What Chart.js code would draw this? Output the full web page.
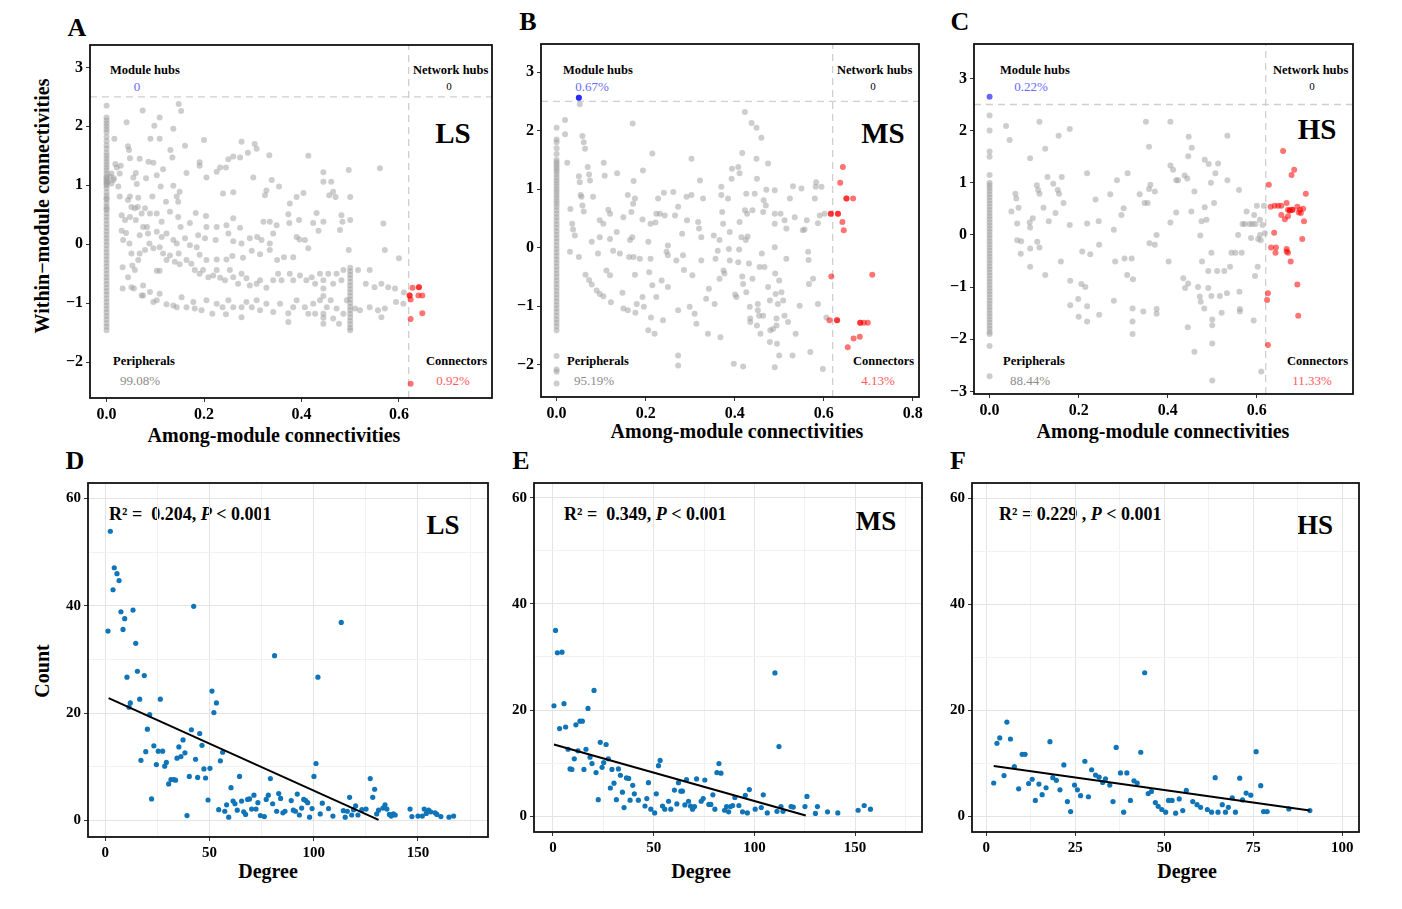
<!DOCTYPE html>
<html><head><meta charset="utf-8">
<script src="https://cdn.jsdelivr.net/npm/chart.js@4.4.1/dist/chart.umd.min.js"></script>
<style>
html,body{margin:0;padding:0;background:#fff;}
#wrap{position:relative;width:1402px;height:909px;overflow:hidden;font-family:"Liberation Serif","Times New Roman",serif;color:#000;}
canvas{position:absolute;}
.t{position:absolute;white-space:pre;line-height:1;}
.c{transform:translate(-50%,-50%);}
.l{transform:translate(0,-50%);}
.rot{transform:translate(-50%,-50%) rotate(-90deg);}
.pl{font-weight:bold;font-size:26px;}
.ax{font-weight:bold;font-size:20px;}
.hd{font-weight:bold;font-size:12.5px;}
.pc{font-size:13px;}
.big{font-weight:bold;font-size:29px;}
.big2{font-weight:bold;font-size:27px;}
.r2{font-weight:bold;font-size:18px;}
</style></head>
<body>
<div id="wrap">
  <div class="t c pl" style="left:77px;top:28px">A</div>
  <div class="t c pl" style="left:528px;top:22px">B</div>
  <div class="t c pl" style="left:960px;top:22px">C</div>
  <div class="t c pl" style="left:75px;top:461px">D</div>
  <div class="t c pl" style="left:521px;top:461px">E</div>
  <div class="t c pl" style="left:958px;top:461px">F</div>

  <div class="t rot ax" style="left:42px;top:206px">Within−module connectivities</div>
  <div class="t c ax" style="left:274px;top:435px">Among-module connectivities</div>
  <div class="t c ax" style="left:737px;top:431px">Among-module connectivities</div>
  <div class="t c ax" style="left:1163px;top:431px">Among-module connectivities</div>
  <div class="t rot ax" style="left:42px;top:671px">Count</div>
  <div class="t c ax" style="left:268px;top:871px">Degree</div>
  <div class="t c ax" style="left:701px;top:871px">Degree</div>
  <div class="t c ax" style="left:1187px;top:871px">Degree</div>

  <!-- A annotations -->
  <div class="t l hd" style="left:110px;top:70px">Module hubs</div>
  <div class="t c pc" style="left:137px;top:86px;color:#6a6aff">0</div>
  <div class="t l hd" style="left:413px;top:70px">Network hubs</div>
  <div class="t c pc" style="left:449px;top:86px;font-size:11px">0</div>
  <div class="t c big" style="left:453px;top:133px">LS</div>
  <div class="t l hd" style="left:113px;top:361px">Peripherals</div>
  <div class="t c pc" style="left:140px;top:380px;color:#8c8c8c">99.08%</div>
  <div class="t l hd" style="left:426px;top:361px">Connectors</div>
  <div class="t c pc" style="left:453px;top:380px;color:#ff5a5a">0.92%</div>

  <!-- B annotations -->
  <div class="t l hd" style="left:563px;top:70px">Module hubs</div>
  <div class="t c pc" style="left:592px;top:86px;color:#6a6aff">0.67%</div>
  <div class="t l hd" style="left:837px;top:70px">Network hubs</div>
  <div class="t c pc" style="left:873px;top:86px;font-size:11px">0</div>
  <div class="t c big" style="left:883px;top:133px">MS</div>
  <div class="t l hd" style="left:567px;top:361px">Peripherals</div>
  <div class="t c pc" style="left:594px;top:380px;color:#8c8c8c">95.19%</div>
  <div class="t l hd" style="left:853px;top:361px">Connectors</div>
  <div class="t c pc" style="left:878px;top:380px;color:#ff5a5a">4.13%</div>

  <!-- C annotations -->
  <div class="t l hd" style="left:1000px;top:70px">Module hubs</div>
  <div class="t c pc" style="left:1031px;top:86px;color:#6a6aff">0.22%</div>
  <div class="t l hd" style="left:1273px;top:70px">Network hubs</div>
  <div class="t c pc" style="left:1312px;top:86px;font-size:11px">0</div>
  <div class="t c big" style="left:1317px;top:129px">HS</div>
  <div class="t l hd" style="left:1003px;top:361px">Peripherals</div>
  <div class="t c pc" style="left:1030px;top:380px;color:#8c8c8c">88.44%</div>
  <div class="t l hd" style="left:1287px;top:361px">Connectors</div>
  <div class="t c pc" style="left:1312px;top:380px;color:#ff5a5a">11.33%</div>

  <!-- bottom annotations -->
  <div class="t l r2" style="left:109px;top:514px">R² =  0.204, <i>P</i> &lt; 0.001</div>
  <div class="t c big2" style="left:443px;top:525px">LS</div>
  <div class="t l r2" style="left:564px;top:514px">R² =  0.349, <i>P</i> &lt; 0.001</div>
  <div class="t c big2" style="left:876px;top:521px">MS</div>
  <div class="t l r2" style="left:999px;top:514px">R² = 0.229 , <i>P</i> &lt; 0.001</div>
  <div class="t c big2" style="left:1315px;top:525px">HS</div>
</div>
<script>
// ---------------- DATA ----------------
// thresholds
const zCut = 2.5, pCut = 0.62;

// Panel A (LS) : among-module (x) vs within-module (y)
const lsZeroY = [2.35,2.15,2.1,2.05,2.0,1.95,1.9,1.82,1.75,1.68,1.62,1.55,1.5,1.45,1.4,1.35,1.3,1.25,1.2,1.15,1.12,1.1,1.07,1.05,1.02,1.0,0.95,0.88,0.82,0.78,0.76,0.7,0.64,0.6,0.58,0.52,0.46,0.4,0.34,0.28,0.22,0.16,0.1,0.04,-0.02,-0.08,-0.14,-0.2,-0.26,-0.32,-0.38,-0.44,-0.5,-0.56,-0.62,-0.68,-0.74,-0.8,-0.86,-0.92,-0.98,-1.04,-1.1,-1.16,-1.22,-1.28,-1.34,-1.4,-1.46];
const lsColY = [-0.4,-0.46,-0.52,-0.58,-0.64,-0.7,-0.76,-0.82,-0.88,-0.94,-1.0,-1.06,-1.12,-1.18,-1.24,-1.3,-1.36,-1.42,-1.46];
const lsGrey = [[0.016,1.79],[0.041,2.07],[0.044,1.66],[0.046,1.60],[0.074,2.27],[0.098,2.01],[0.109,2.15],[0.109,1.79],[0.09,1.79],[0.137,1.96],[0.148,2.38],[0.153,2.26],[0.131,1.60],[0.161,1.67],[0.135,1.47],[0.2,1.77],[0.277,1.74],[0.304,1.70],[0.308,1.62],[0.29,1.55],[0.334,1.51],[0.414,1.50],[0.561,1.29],[0.497,1.26],[0.445,1.22],[0.445,1.06],[0.461,1.06],[0.25,1.44],[0.26,1.49],[0.274,1.47],[0.245,1.30],[0.191,1.39],[0.191,1.33],[0.233,1.30],[0.205,1.13],[0.164,1.21],[0.116,1.27],[0.068,1.45],[0.086,1.40],[0.096,1.38],[0.048,1.46],[0.029,1.33],[0.021,1.30],[0.018,1.36],[0.01,1.20],[0.014,1.09],[0.027,1.20],[0.024,0.98],[0.003,1.06],[0.007,1.15],[0.01,1.03],[0.015,1.12],[0.055,1.13],[0.06,1.21],[0.062,1.02],[0.081,1.12],[0.103,1.17],[0.137,0.99],[0.15,0.89],[0.144,0.81],[0.147,0.72],[0.122,0.72],[0.111,0.98],[0.094,0.81],[0.048,0.81],[0.044,0.75],[0.027,0.81],[0.065,0.79],[0.064,0.63],[0.058,0.61],[0.072,0.52],[0.079,0.61],[0.089,0.52],[0.103,0.52],[0.113,0.38],[0.13,0.55],[0.147,0.46],[0.152,0.29],[0.171,0.36],[0.183,0.53],[0.204,0.48],[0.205,0.29],[0.226,0.29],[0.246,0.32],[0.26,0.44],[0.274,0.28],[0.25,0.18],[0.188,0.15],[0.202,0.10],[0.224,0.07],[0.239,0.86],[0.26,0.88],[0.226,1.23],[0.301,1.13],[0.328,0.91],[0.325,0.83],[0.339,1.09],[0.354,0.98],[0.376,0.69],[0.373,0.51],[0.375,0.36],[0.39,0.80],[0.404,0.87],[0.395,0.41],[0.424,0.36],[0.431,0.53],[0.445,0.38],[0.435,0.23],[0.457,0.83],[0.47,0.80],[0.465,0.89],[0.482,0.49],[0.484,0.38],[0.479,0.24],[0.5,0.41],[0.5,0.80],[0.497,-0.10],[0.568,0.35],[0.571,-0.10],[0.6,-0.24],[0.322,0.38],[0.335,0.38],[0.349,0.32],[0.342,0.18],[0.335,0.01],[0.318,0.07],[0.309,0.12],[0.294,0.10],[0.277,0.01],[0.26,0.05],[0.39,0.12],[0.396,0.08],[0.407,0.07],[0.414,-0.07],[0.383,-0.22],[0.364,-0.22],[0.35,-0.27],[0.335,-0.10],[0.315,-0.17],[0.298,-0.11],[0.28,-0.23],[0.258,-0.20],[0.246,-0.26],[0.226,-0.26],[0.205,-0.27],[0.191,-0.18],[0.185,-0.05],[0.171,-0.02],[0.161,0.10],[0.144,0.01],[0.137,0.07],[0.123,0.18],[0.113,0.12],[0.103,0.21],[0.083,0.29],[0.085,0.18],[0.075,0.29],[0.068,0.15],[0.06,0.41],[0.051,0.63],[0.048,0.46],[0.038,0.41],[0.031,0.49],[0.034,0.07],[0.031,0.23],[0.04,0.19],[0.047,0.01],[0.051,-0.16],[0.033,-0.39],[0.053,-0.36],[0.058,-0.44],[0.065,-0.27],[0.068,-0.16],[0.079,-0.10],[0.088,0.01],[0.096,-0.07],[0.109,-0.05],[0.116,-0.16],[0.123,-0.27],[0.109,-0.45],[0.103,-0.45],[0.13,-0.19],[0.14,-0.30],[0.148,-0.16],[0.15,-0.34],[0.164,-0.27],[0.174,-0.33],[0.181,-0.44],[0.191,-0.50],[0.198,-0.44],[0.209,-0.56],[0.219,-0.53],[0.226,-0.44],[0.233,-0.57],[0.243,-0.61],[0.253,-0.44],[0.26,-0.56],[0.27,-0.67],[0.277,-0.50],[0.287,-0.58],[0.294,-0.70],[0.308,-0.67],[0.315,-0.61],[0.328,-0.74],[0.342,-0.61],[0.352,-0.50],[0.359,-0.61],[0.376,-0.50],[0.383,-0.61],[0.397,-0.53],[0.41,-0.61],[0.421,-0.56],[0.428,-0.67],[0.438,-0.50],[0.445,-0.61],[0.455,-0.50],[0.465,-0.67],[0.472,-0.50],[0.482,-0.61],[0.486,-0.44],[0.516,-0.44],[0.532,-0.67],[0.54,-0.44],[0.55,-0.73],[0.564,-0.67],[0.578,-0.73],[0.592,-0.75],[0.594,-0.98],[0.609,-1.01],[0.61,-0.82],[0.033,-0.75],[0.044,-0.56],[0.051,-0.73],[0.056,-0.75],[0.075,-0.70],[0.075,-0.87],[0.089,-0.81],[0.096,-0.98],[0.103,-0.95],[0.072,-0.87],[0.109,-0.84],[0.123,-1.02],[0.137,-1.04],[0.144,-1.07],[0.154,-0.90],[0.164,-1.07],[0.178,-0.98],[0.181,-1.09],[0.195,-1.12],[0.205,-0.95],[0.217,-1.18],[0.226,-1.01],[0.238,-1.07],[0.245,-1.19],[0.25,-0.95],[0.26,-1.07],[0.277,-1.07],[0.277,-1.24],[0.287,-0.98],[0.298,-1.07],[0.308,-0.95],[0.315,-1.12],[0.328,-1.01],[0.342,-1.15],[0.356,-1.01],[0.373,-1.17],[0.373,-1.32],[0.383,-1.07],[0.39,-0.95],[0.407,-1.07],[0.414,-1.18],[0.424,-1.01],[0.428,-1.18],[0.438,-0.95],[0.445,-1.18],[0.445,-1.35],[0.445,-0.75],[0.445,-0.88],[0.445,-1.25],[0.452,-1.07],[0.46,-0.95],[0.465,-1.26],[0.472,-1.09],[0.477,-1.35],[0.486,-1.18],[0.493,-0.95],[0.51,-1.09],[0.52,-1.12],[0.54,-1.07],[0.564,-1.24],[0.557,-1.12],[0.571,-1.09]];
const lsConn = [[0.622,-0.87],[0.622,-0.87],[0.624,-0.94],[0.628,-0.74],[0.641,-0.73],[0.641,-0.73],[0.64,-0.87],[0.648,-0.87],[0.624,-1.27],[0.648,-1.17],[0.624,-2.37]];
const lsHub = [];

// Panel B (MS)
const msZeroY = [2.05,1.85,1.8,1.7,1.6,1.5,1.46,1.42,1.38,1.34,1.3,1.25,1.2,1.15,1.1,1.05,1.0,0.95,0.9,0.85,0.8,0.75,0.7,0.64,0.58,0.52,0.46,0.4,0.34,0.28,0.22,0.16,0.1,0.04,-0.02,-0.08,-0.14,-0.2,-0.26,-0.32,-0.38,-0.44,-0.5,-0.56,-0.62,-0.68,-0.74,-0.8,-0.86,-0.92,-0.98,-1.04,-1.1,-1.16,-1.22,-1.28,-1.34,-1.41,-1.85,-2.08,-2.12,-2.32];
const msGrey = [[0.052,2.45],[0.019,2.18],[0.019,1.94],[0.024,1.45],[0.058,1.91],[0.061,1.80],[0.064,1.69],[0.07,1.38],[0.073,1.25],[0.075,1.15],[0.05,1.22],[0.052,1.12],[0.054,0.90],[0.056,0.87],[0.058,0.72],[0.061,0.62],[0.082,0.87],[0.031,0.66],[0.035,0.41],[0.037,0.31],[0.041,0.21],[0.03,-0.07],[0.05,-0.16],[0.065,-0.46],[0.073,-0.55],[0.079,-0.63],[0.09,-0.73],[0.097,-0.79],[0.105,-0.83],[0.079,0.10],[0.097,0.47],[0.105,0.41],[0.097,0.18],[0.093,-0.10],[0.106,1.45],[0.108,1.23],[0.116,0.65],[0.12,0.58],[0.12,0.15],[0.127,-0.05],[0.112,-0.39],[0.12,-0.47],[0.135,0.27],[0.136,1.27],[0.122,-0.93],[0.15,0.52],[0.142,-0.10],[0.16,0.90],[0.163,-0.16],[0.148,-0.77],[0.15,-1.04],[0.16,-1.07],[0.165,0.13],[0.168,0.61],[0.172,0.75],[0.176,0.84],[0.173,1.14],[0.171,2.12],[0.17,0.18],[0.173,-0.16],[0.176,-0.46],[0.18,-0.96],[0.177,-1.11],[0.187,-0.19],[0.193,0.48],[0.194,1.32],[0.196,-1.01],[0.193,-0.84],[0.206,0.10],[0.208,-0.42],[0.211,0.41],[0.211,-0.19],[0.215,-0.64],[0.215,1.61],[0.206,-1.41],[0.212,-1.19],[0.22,-1.47],[0.222,0.43],[0.224,-0.84],[0.224,0.58],[0.228,0.84],[0.232,0.58],[0.236,-0.56],[0.239,-1.24],[0.241,0.94],[0.243,0.55],[0.247,-0.07],[0.25,0.04],[0.25,-0.13],[0.25,-0.67],[0.262,0.95],[0.266,0.55],[0.269,-0.22],[0.273,0.70],[0.273,-1.07],[0.273,-1.84],[0.273,-2.01],[0.282,0.24],[0.284,-0.13],[0.286,-0.38],[0.292,0.87],[0.293,0.47],[0.303,0.90],[0.299,-1.01],[0.303,1.52],[0.305,-0.47],[0.31,-1.13],[0.314,-1.30],[0.318,0.44],[0.32,0.33],[0.322,1.15],[0.325,-0.22],[0.329,0.84],[0.325,0.18],[0.336,-0.87],[0.342,-0.70],[0.34,-1.47],[0.353,0.21],[0.355,-0.96],[0.357,-0.19],[0.362,-0.05],[0.366,0.13],[0.366,-0.53],[0.368,-1.53],[0.37,1.04],[0.37,0.90],[0.372,0.61],[0.374,0.41],[0.375,-0.39],[0.377,-0.44],[0.385,0.84],[0.387,-0.02],[0.389,0.27],[0.389,-0.22],[0.393,1.18],[0.394,1.35],[0.398,-1.98],[0.401,-0.80],[0.404,-0.84],[0.408,-0.25],[0.408,1.38],[0.41,-0.03],[0.411,0.44],[0.411,1.27],[0.415,0.18],[0.417,1.62],[0.417,-0.49],[0.419,-0.62],[0.419,-2.03],[0.423,2.32],[0.423,0.64],[0.425,0.13],[0.426,0.92],[0.426,-0.76],[0.428,0.58],[0.429,0.19],[0.432,-0.27],[0.434,-1.01],[0.435,-1.21],[0.435,-1.27],[0.438,2.13],[0.44,-0.53],[0.44,0.64],[0.445,0.92],[0.449,2.05],[0.449,1.52],[0.45,1.18],[0.45,-1.33],[0.452,-1.07],[0.452,-0.96],[0.455,-1.16],[0.456,-0.33],[0.458,-1.47],[0.46,1.88],[0.461,-0.10],[0.464,-1.16],[0.464,0.61],[0.465,0.81],[0.467,-0.33],[0.47,0.72],[0.471,0.99],[0.475,1.44],[0.475,-0.67],[0.479,-0.90],[0.479,-1.61],[0.48,-1.41],[0.486,-1.39],[0.49,0.98],[0.49,0.58],[0.49,0.41],[0.49,0.01],[0.491,-0.44],[0.492,-0.79],[0.494,-1.21],[0.494,-1.33],[0.49,-2.04],[0.495,-1.64],[0.497,-0.96],[0.5,-0.56],[0.5,-1.84],[0.503,0.58],[0.505,-0.76],[0.509,-0.90],[0.512,0.47],[0.512,-1.16],[0.516,0.33],[0.516,-0.19],[0.52,-1.27],[0.524,0.84],[0.53,-1.84],[0.531,1.05],[0.535,0.52],[0.537,-1.47],[0.546,-0.99],[0.55,1.01],[0.553,0.30],[0.557,0.31],[0.562,0.47],[0.565,-0.07],[0.566,-0.21],[0.567,-0.62],[0.57,-1.78],[0.576,-0.53],[0.58,0.84],[0.582,1.04],[0.583,1.12],[0.587,0.42],[0.587,-0.96],[0.591,0.55],[0.595,1.04],[0.598,-2.07],[0.602,0.58],[0.606,-1.19]];
const msConn = [[0.616,0.58],[0.616,0.58],[0.632,0.58],[0.632,0.58],[0.643,1.38],[0.637,1.11],[0.651,0.84],[0.651,0.84],[0.666,0.84],[0.642,0.44],[0.645,0.30],[0.617,-0.49],[0.709,-0.46],[0.613,-1.24],[0.63,-1.24],[0.63,-1.24],[0.682,-1.28],[0.682,-1.28],[0.69,-1.28],[0.699,-1.28],[0.681,-1.52],[0.667,-1.55],[0.654,-1.70]];
const msHub = [[0.05,2.56],[0.05,2.56]];

// Panel C (HS)
const hsZeroY = [2.29,2.0,1.6,1.5,1.15,1.0,0.95,0.9,0.84,0.78,0.72,0.66,0.6,0.54,0.48,0.42,0.36,0.3,0.24,0.18,0.12,0.06,0.0,-0.06,-0.12,-0.18,-0.24,-0.3,-0.36,-0.42,-0.48,-0.54,-0.6,-0.66,-0.72,-0.78,-0.84,-0.9,-0.96,-1.02,-1.08,-1.14,-1.2,-1.26,-1.32,-1.38,-1.44,-1.5,-1.56,-1.62,-1.68,-1.74,-1.8,-1.86,-1.9,-2.13,-2.71];
const hsGrey = [[0.037,2.09],[0.045,1.82],[0.112,2.17],[0.091,1.47],[0.125,1.65],[0.155,1.90],[0.18,2.03],[0.058,0.79],[0.06,0.70],[0.065,0.52],[0.049,0.45],[0.062,0.22],[0.062,-0.10],[0.071,-0.12],[0.07,-0.36],[0.091,-0.61],[0.091,-0.26],[0.09,0.24],[0.091,0.14],[0.097,0.32],[0.106,0.95],[0.109,0.86],[0.112,0.79],[0.121,0.52],[0.107,-0.13],[0.112,-0.24],[0.125,-0.77],[0.13,1.11],[0.133,0.26],[0.143,0.98],[0.148,0.42],[0.153,0.86],[0.156,0.79],[0.162,1.11],[0.166,0.61],[0.16,-0.51],[0.18,0.19],[0.181,-0.88],[0.181,-1.35],[0.199,-1.23],[0.2,-1.57],[0.208,-0.32],[0.206,-0.94],[0.215,-1.00],[0.219,-1.37],[0.219,-1.66],[0.219,0.22],[0.219,1.18],[0.226,-0.37],[0.238,0.68],[0.245,0.26],[0.246,-1.53],[0.246,-0.19],[0.271,0.78],[0.279,0.10],[0.279,-1.26],[0.282,-0.51],[0.286,1.05],[0.296,0.38],[0.301,0.51],[0.303,-0.45],[0.31,1.18],[0.309,-0.77],[0.319,-0.45],[0.321,-1.41],[0.321,-1.66],[0.322,-0.85],[0.321,-1.90],[0.337,0.78],[0.345,-1.47],[0.348,0.61],[0.351,2.17],[0.355,0.61],[0.358,1.69],[0.358,0.88],[0.359,-0.16],[0.361,0.96],[0.371,0.83],[0.371,-0.19],[0.375,0.0],[0.375,-1.42],[0.375,-1.51],[0.402,-0.51],[0.406,2.17],[0.406,1.33],[0.406,0.24],[0.412,1.25],[0.419,1.05],[0.419,0.43],[0.423,1.05],[0.435,-0.83],[0.438,1.14],[0.439,-1.02],[0.444,1.08],[0.446,1.51],[0.447,1.88],[0.446,-0.93],[0.445,-1.77],[0.453,0.45],[0.454,1.67],[0.46,0.83],[0.46,-2.24],[0.468,-1.00],[0.472,-1.18],[0.473,-0.01],[0.474,-1.28],[0.476,0.26],[0.477,-0.51],[0.482,-1.41],[0.483,0.53],[0.483,1.44],[0.487,0.29],[0.491,-0.69],[0.491,-1.02],[0.492,1.36],[0.497,1.00],[0.498,-0.34],[0.498,-1.17],[0.5,-1.62],[0.5,-1.73],[0.5,-2.08],[0.5,-2.79],[0.504,0.61],[0.507,1.18],[0.511,-0.69],[0.513,1.37],[0.517,-1.17],[0.521,-1.49],[0.527,-0.69],[0.533,-1.12],[0.534,1.05],[0.534,1.90],[0.54,-0.61],[0.543,-0.34],[0.552,-0.34],[0.558,0.0],[0.56,0.86],[0.561,-1.09],[0.562,-1.42],[0.562,-1.47],[0.566,-0.34],[0.568,0.21],[0.573,0.21],[0.577,0.45],[0.584,0.21],[0.587,-0.06],[0.59,0.21],[0.593,-1.64],[0.594,0.38],[0.596,-0.79],[0.597,0.21],[0.6,0.56],[0.602,-0.61],[0.603,-0.08],[0.607,0.0],[0.607,0.29],[0.609,-0.10],[0.61,-2.62],[0.613,0.19],[0.616,0.56],[0.618,0.03]];
const hsConn = [[0.659,1.61],[0.684,1.25],[0.678,1.15],[0.627,0.96],[0.71,0.79],[0.631,0.54],[0.64,0.56],[0.648,0.56],[0.655,0.56],[0.667,0.61],[0.67,0.48],[0.674,0.47],[0.674,0.47],[0.68,0.48],[0.68,0.48],[0.691,0.54],[0.694,0.43],[0.697,0.48],[0.704,0.50],[0.699,0.42],[0.655,0.38],[0.663,0.30],[0.67,0.36],[0.706,0.26],[0.639,0.04],[0.702,-0.08],[0.632,-0.24],[0.643,-0.24],[0.642,-0.34],[0.667,-0.27],[0.667,-0.32],[0.67,-0.34],[0.676,-0.51],[0.691,-0.95],[0.625,-1.12],[0.623,-1.25],[0.693,-1.55],[0.625,-2.11]];
const hsHub = [[0,2.65]];

// Panels D, E, F : Degree (x) vs Count (y)
const lsDegree = [[1.3,35.3],[2.4,53.9],[3.7,43.0],[4.3,47.1],[5.6,46.0],[6.6,44.7],[7.5,38.9],[9.3,37.6],[8.5,35.6],[10.4,26.7],[13.3,39.2],[14.6,33.0],[15.4,27.8],[18.7,27.0],[12.0,21.9],[11.4,21.1],[16.5,22.6],[17.1,11.2],[19.4,12.8],[20.2,17.0],[21.3,19.7],[22.2,4.0],[23.3,13.9],[24.5,10.4],[25.4,12.9],[26.4,22.6],[27.5,12.9],[28.5,10.1],[29.3,10.8],[30.4,6.8],[31.5,7.6],[32.8,7.6],[33.7,7.5],[34.4,11.6],[35.3,13.7],[36.3,11.9],[37.3,15.0],[38.2,12.6],[39.2,0.9],[40.3,8.2],[41.3,16.9],[42.4,39.9],[43.3,11.4],[44.3,8.0],[45.3,16.2],[46.4,14.0],[47.3,9.6],[48.1,7.9],[49.3,3.8],[50.2,9.7],[51.2,24.1],[52.1,20.1],[53.3,21.9],[54.4,2.0],[55.2,11.1],[56.3,12.7],[57.3,1.7],[58.2,2.9],[59.2,0.6],[60.3,6.1],[61.3,3.6],[62.2,3.1],[63.3,1.9],[64.4,8.2],[65.4,3.6],[66.4,1.6],[67.3,1.1],[68.3,3.9],[69.2,4.0],[70.2,2.1],[71.3,4.7],[72.3,2.1],[73.2,3.3],[74.4,0.9],[76.3,0.7],[77.2,3.9],[78.2,4.7],[79.2,7.8],[80.3,3.1],[81.2,30.7],[82.2,1.7],[83.2,5.0],[84.1,4.1],[85.2,1.4],[86.2,1.7],[89.2,3.7],[90.2,1.9],[91.2,1.7],[92.1,4.9],[93.1,1.0],[94.2,2.3],[95.2,3.9],[96.1,3.7],[97.1,3.3],[98.0,0.6],[99.2,2.2],[100.1,8.2],[101.1,10.6],[102.0,26.7],[103.1,1.2],[104.1,3.2],[107.1,2.2],[109.2,0.8],[113.2,36.9],[114.2,1.8],[115.1,0.6],[116.1,1.7],[117.2,4.3],[118.2,1.0],[119.1,2.0],[120.1,2.7],[121.2,1.0],[123.1,2.0],[125.1,2.1],[127.1,7.8],[128.3,4.3],[129.2,5.8],[130.2,1.2],[131.1,1.9],[133.2,2.3],[134.2,2.9],[135.1,2.1],[136.3,1.1],[137.2,0.8],[138.2,1.2],[139.1,1.0],[146.2,2.1],[147.1,0.7],[150.0,0.8],[152.1,0.8],[153.0,2.1],[154.0,1.3],[155.1,1.9],[156.1,1.6],[158.2,1.4],[159.1,1.1],[161.0,0.7],[164.9,0.6],[167.1,0.8]];
const msDegree = [[0.5,20.8],[1.3,35.0],[2.2,30.8],[4.5,30.9],[3.3,16.5],[5.5,21.2],[6.3,16.8],[7.5,12.6],[8.5,8.9],[9.4,8.8],[10.6,10.8],[11.4,17.2],[12.4,12.3],[13.4,17.9],[14.6,17.9],[15.4,8.8],[16.4,12.6],[17.4,20.3],[18.4,11.1],[19.4,9.9],[20.4,23.7],[21.4,8.2],[22.5,3.1],[23.5,13.9],[24.4,9.2],[25.2,10.1],[26.4,13.5],[27.5,10.8],[28.5,5.3],[29.3,8.8],[30.3,6.2],[31.5,3.1],[32.5,8.9],[33.5,7.7],[34.5,4.5],[35.3,1.6],[36.5,7.2],[37.6,7.1],[38.3,3.0],[39.6,5.8],[40.4,4.2],[42.4,3.0],[45.7,1.9],[46.6,3.3],[47.4,6.3],[48.6,1.3],[50.5,0.6],[51.3,4.2],[52.4,9.5],[53.2,10.5],[54.4,1.9],[55.5,1.3],[57.4,2.8],[58.5,1.3],[60.3,4.9],[61.5,2.3],[62.3,6.3],[63.5,4.7],[64.3,4.7],[65.5,2.1],[66.3,6.9],[67.3,2.8],[68.3,1.9],[69.3,1.3],[70.3,1.8],[71.3,7.0],[73.6,2.8],[74.6,3.3],[75.4,6.8],[77.4,2.2],[78.4,2.2],[79.4,4.0],[80.4,1.3],[81.4,8.2],[82.4,9.9],[83.4,8.1],[85.2,1.1],[86.2,1.8],[87.2,0.8],[88.2,1.8],[89.2,2.0],[90.3,3.5],[92.3,2.0],[94.1,0.8],[95.5,3.9],[96.5,0.6],[97.5,5.0],[100.4,1.3],[103.4,1.6],[104.4,4.0],[106.4,0.6],[110.2,27.0],[111.2,0.9],[112.2,13.1],[113.2,1.8],[114.2,0.9],[118.2,1.8],[119.3,1.7],[125.1,1.8],[126.1,3.7],[130.3,0.5],[131.3,1.8],[136.3,0.8],[141.4,0.6],[151.5,1.1],[154.5,2.0],[157.6,1.3]];
const hsDegree = [[2.1,6.3],[3.0,13.8],[3.8,14.8],[5.0,7.7],[5.8,17.8],[6.8,14.6],[7.9,9.4],[9.1,5.2],[10.1,11.7],[10.9,11.7],[11.9,6.2],[12.9,7.0],[13.8,3.0],[14.8,6.1],[15.7,4.1],[16.8,5.4],[17.9,14.1],[18.7,7.3],[19.7,6.8],[20.7,5.0],[21.8,9.7],[22.8,2.8],[23.7,0.9],[24.8,5.9],[25.6,5.0],[26.5,3.9],[27.7,10.4],[28.7,3.7],[29.6,8.8],[30.7,7.8],[31.7,7.4],[32.7,6.4],[33.5,7.1],[34.7,5.9],[35.6,2.8],[36.5,13.0],[37.7,8.2],[38.6,0.8],[39.5,8.2],[40.5,3.0],[41.5,6.7],[42.4,6.3],[43.4,12.1],[44.5,27.1],[45.5,4.3],[46.4,4.7],[47.5,2.6],[48.3,1.9],[49.3,1.3],[50.4,0.8],[51.2,3.0],[52.2,3.0],[53.2,0.6],[54.2,3.3],[55.2,1.1],[56.2,4.9],[58.0,2.8],[59.2,2.2],[60.2,1.7],[62.1,1.3],[63.3,0.8],[64.3,7.3],[65.1,0.8],[66.3,2.2],[67.2,0.8],[68.0,1.7],[69.1,3.5],[70.0,0.8],[71.2,7.2],[72.0,3.1],[73.0,4.4],[74.3,4.0],[75.8,12.2],[77.1,5.8],[77.9,0.9],[78.9,0.9],[85.0,1.4],[90.9,1.1]];
// fitted regression end points
const lsFit = [[1.6,22.8],[131.1,0.1]];
const msFit = [[0.5,13.5],[125.5,0.1]];
const hsFit = [[2.1,9.5],[90.9,1.1]];

// tick labels
const zxTicks = [0, 0.2, 0.4, 0.6];
const zxTicksB = [0, 0.2, 0.4, 0.6, 0.8];
const zyTicks = [-2, -1, 0, 1, 2, 3];
const zyTicksC = [-3, -2, -1, 0, 1, 2, 3];
const degLabels = [0, 50, 100, 150];
const degGrid = [0, 25, 50, 75, 100, 125, 150, 175];
const degLabelsF = [0, 25, 50, 75, 100];
const degGridF = [0, 12.5, 25, 37.5, 50, 62.5, 75, 87.5, 100];
const cntLabels = [0, 20, 40, 60];
const cntGrid = [0, 10, 20, 30, 40, 50, 60];

// ---------------- DRAWING ----------------
const toPts = a => a.map(p => ({x: p[0], y: p[1]}));
const colPts = (x, ys) => ys.map(y => ({x, y}));
const YW = 50, XH = 30, PT = 6, PR = 8;

const frame = {
  id: 'frame',
  afterDraw(c) {
    const {ctx, chartArea: a} = c;
    ctx.save(); ctx.strokeStyle = '#111'; ctx.lineWidth = 1.8;
    ctx.strokeRect(a.left, a.top, a.right - a.left, a.bottom - a.top);
    ctx.restore();
  }
};

function axis(pos, min, max, ticks, labels, fmt, gridOn, fsize) {
  return {
    type: 'linear', position: pos, min, max,
    afterBuildTicks: s => { s.ticks = ticks.map(v => ({value: v})); },
    afterFit: s => {
      if (pos === 'bottom') s.height = XH; else s.width = YW;
      s.paddingTop = 0; s.paddingBottom = 0; s.paddingLeft = 0; s.paddingRight = 0;
    },
    ticks: {color: '#000', font: {family: 'Liberation Serif', weight: 'bold', size: fsize}, padding: 3, autoSkip: false, maxRotation: 0,
      callback: v => labels.includes(v) ? fmt(v) : ''},
    grid: gridOn ? {
      drawOnChartArea: true, drawTicks: true, tickLength: 4, lineWidth: 1,
      color: c => labels.includes(c.tick && c.tick.value) ? '#e4e4e4' : '#f2f2f2',
      tickColor: c => labels.includes(c.tick && c.tick.value) ? '#333' : 'rgba(0,0,0,0)'
    } : {drawOnChartArea: false, drawTicks: true, tickLength: 4, color: '#333', lineWidth: 1},
    border: {display: false}
  };
}

function make(rect, datasets, xs, ys) {
  const [L, T, R, B] = rect;
  const cv = document.createElement('canvas');
  const w = (R - L) + YW + PR, h = (B - T) + PT + XH;
  cv.width = w; cv.height = h;
  cv.style.left = (L - YW) + 'px'; cv.style.top = (T - PT) + 'px';
  cv.style.width = w + 'px'; cv.style.height = h + 'px';
  document.getElementById('wrap').appendChild(cv);
  new Chart(cv, {
    type: 'scatter',
    data: {datasets},
    options: {
      responsive: false, animation: false, events: [], devicePixelRatio: 1,
      layout: {padding: {top: PT, right: PR, left: 0, bottom: 0}},
      plugins: {legend: {display: false}, tooltip: {enabled: false}},
      scales: {x: xs, y: ys}
    },
    plugins: [frame]
  });
}

const fmt1 = v => v.toFixed(1);
const fmtZ = v => v < 0 ? '\u2212' + Math.abs(v) : String(v);
const fmtI = v => String(v);
const GREY = 'rgba(160,160,160,0.52)', RED = 'rgba(255,0,0,0.55)', BLUE = 'rgba(0,0,255,0.6)';

function zpDatasets(hub, conn, grey, zeroY, extra, xr, yr) {
  const dash = {type: 'line', borderColor: '#cfcfcf', borderWidth: 1.3, borderDash: [7, 5], pointRadius: 0, fill: false};
  return [
    {data: toPts(hub), backgroundColor: BLUE, borderWidth: 0, pointRadius: 3},
    {data: toPts(conn), backgroundColor: RED, borderWidth: 0, pointRadius: 3},
    {data: toPts(grey).concat(colPts(0, zeroY), extra), backgroundColor: GREY, borderWidth: 0, pointRadius: 3},
    Object.assign({data: [{x: pCut, y: yr[0]}, {x: pCut, y: yr[1]}]}, dash),
    Object.assign({data: [{x: xr[0], y: zCut}, {x: xr[1], y: zCut}]}, dash)
  ];
}

// A
{
  const xr = [-0.034, 0.791], yr = [-2.61, 3.38];
  make([90, 45, 492, 398], zpDatasets(lsHub, lsConn, lsGrey, lsZeroY, colPts(0.5, lsColY), xr, yr),
    axis('bottom', xr[0], xr[1], zxTicks, zxTicks, fmt1, false, 16),
    axis('left', yr[0], yr[1], zyTicks, zyTicks, fmtZ, false, 16));
}
// B
{
  const xr = [-0.035, 0.814], yr = [-2.55, 3.48];
  make([541, 44, 919, 397], zpDatasets(msHub, msConn, msGrey, msZeroY, [], xr, yr),
    axis('bottom', xr[0], xr[1], zxTicksB, zxTicksB, fmt1, false, 16),
    axis('left', yr[0], yr[1], zyTicks, zyTicks, fmtZ, false, 16));
}
// C
{
  const xr = [-0.035, 0.816], yr = [-3.05, 3.66];
  make([974, 44, 1353, 394], zpDatasets(hsHub, hsConn, hsGrey, hsZeroY, [], xr, yr),
    axis('bottom', xr[0], xr[1], zxTicks, zxTicks, fmt1, false, 16),
    axis('left', yr[0], yr[1], zyTicksC, zyTicksC, fmtZ, false, 16));
}

function degDatasets(pts, fit) {
  return [
    {type: 'line', data: toPts(fit), borderColor: '#000', borderWidth: 2, pointRadius: 0, fill: false},
    {data: toPts(pts), backgroundColor: '#0f74b8', borderWidth: 0, pointRadius: 2.6}
  ];
}
// D
make([88, 483, 488, 837], degDatasets(lsDegree, lsFit),
  axis('bottom', -8.3, 183.6, degGrid, degLabels, fmtI, true, 15),
  axis('left', -3.1, 62.9, cntGrid, cntLabels, fmtI, true, 15));
// E
make([534, 483, 922, 832], degDatasets(msDegree, msFit),
  axis('bottom', -9.4, 183.2, degGrid, degLabels, fmtI, true, 15),
  axis('left', -3.0, 62.8, cntGrid, cntLabels, fmtI, true, 15));
// F
make([972, 483, 1359, 832], degDatasets(hsDegree, hsFit),
  axis('bottom', -4.0, 104.7, degGridF, degLabelsF, fmtI, true, 15),
  axis('left', -2.95, 62.9, cntGrid, cntLabels, fmtI, true, 15));
</script>
</body></html>
